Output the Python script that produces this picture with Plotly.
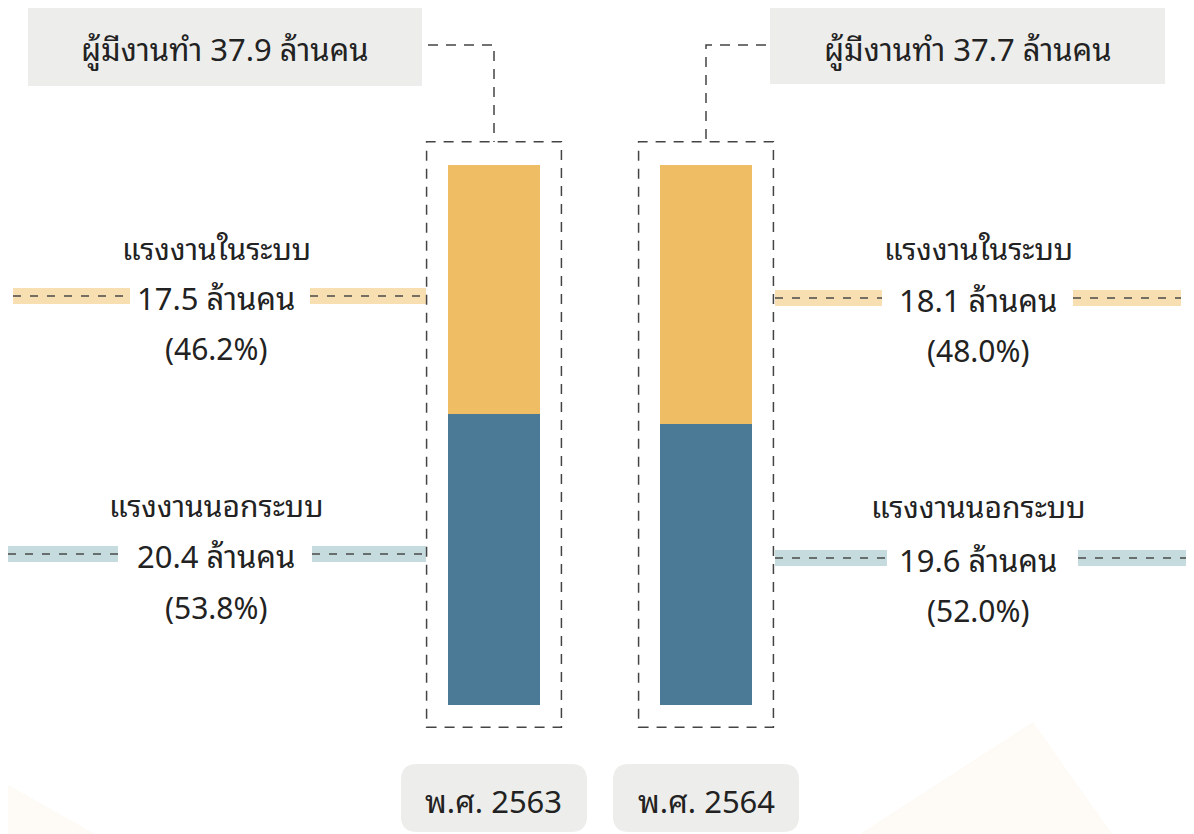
import plotly.graph_objects as go

# ---------------- data ----------------
years = ["พ.ศ. 2563", "พ.ศ. 2564"]
employed_total = [37.9, 37.7]
formal_millions = [17.5, 18.1]
informal_millions = [20.4, 19.6]
formal_pct = [46.2, 48.0]
informal_pct = [53.8, 52.0]
formal_label = "แรงงานในระบบ"
informal_label = "แรงงานนอกระบบ"
unit = "ล้านคน"
total_prefix = "ผู้มีงานทำ"

# ---------------- style ----------------
PAGE_W, PAGE_H = 1194, 834
OFF = 8  # page body margin
W, H = PAGE_W - OFF, PAGE_H - OFF
YELLOW = "#EFBD63"
BLUE = "#4A7A96"
BAND_Y = "#F8DFB2"
BAND_B = "#C6DBDE"
GREY = "#EDEDEB"
DASHC = "#444444"
FONT = "Noto Sans Thai Looped, Noto Sans Thai, Loma, Garuda, Noto Sans, sans-serif"
TXT = "#222222"


def px(x):
    return (x - OFF) / W


def py(y):
    return 1 - (y - OFF) / H


fig = go.Figure()
fig.add_trace(go.Bar(x=years, y=informal_pct, marker=dict(color=BLUE, line=dict(width=0)),
                     width=0.434, hoverinfo="skip", name=informal_label))
fig.add_trace(go.Bar(x=years, y=formal_pct, marker=dict(color=YELLOW, line=dict(width=0)),
                     width=0.434, hoverinfo="skip", name=formal_label))

shapes = []
annos = []

# faint background triangles
shapes.append(dict(type="path", xref="paper", yref="paper", layer="below",
                   path=f"M {px(OFF)} {py(785)} L {px(95)} {py(834)} L {px(OFF)} {py(834)} Z",
                   fillcolor="#FEFAF6", line=dict(width=0)))
shapes.append(dict(type="path", xref="paper", yref="paper", layer="below",
                   path=f"M {px(860)} {py(834)} L {px(1033)} {py(722)} L {px(1112)} {py(834)} Z",
                   fillcolor="#FEFAF6", line=dict(width=0)))

box_dash = "10px,8px"
# dashed boxes around bars (in data coords)
for i in range(len(years)):
    shapes.append(dict(type="rect", xref="x", yref="y", x0=i - 0.318, x1=i + 0.318,
                       y0=-4.1, y1=104.3, line=dict(color=DASHC, width=1.5, dash=box_dash),
                       fillcolor="rgba(0,0,0,0)"))

# top grey boxes + connectors
top_boxes = [(28, 422, 8, 86), (770, 1165, 8, 84)]
for i, (x0, x1, y0, y1) in enumerate(top_boxes):
    shapes.append(dict(type="rect", xref="paper", yref="paper", x0=px(x0), x1=px(x1),
                       y0=py(y1), y1=py(y0), fillcolor=GREY, line=dict(width=0), layer="below"))
    annos.append(dict(x=px((x0 + x1) / 2), y=py(47), xref="paper", yref="paper",
                      text=f"{total_prefix} {employed_total[i]:.1f} {unit}", showarrow=False,
                      font=dict(size=31, color=TXT, family=FONT), xanchor="center", yanchor="middle"))

shapes.append(dict(type="path", xref="paper", yref="paper",
                   path=f"M {px(428)} {py(45)} L {px(494)} {py(45)} L {px(494)} {py(142)}",
                   line=dict(color=DASHC, width=1.5, dash=box_dash)))
shapes.append(dict(type="path", xref="paper", yref="paper",
                   path=f"M {px(766)} {py(45)} L {px(706)} {py(45)} L {px(706)} {py(142)}",
                   line=dict(color=DASHC, width=1.5, dash=box_dash)))

# side labels
side = [
    (formal_label, formal_millions[0], formal_pct[0], BAND_Y, 216, 246, 296, 347, [(13, 130), (310, 426)]),
    (informal_label, informal_millions[0], informal_pct[0], BAND_B, 216, 503, 554, 605, [(8, 118), (312, 426)]),
    (formal_label, formal_millions[1], formal_pct[1], BAND_Y, 978, 246, 298, 348, [(775, 882), (1073, 1181)]),
    (informal_label, informal_millions[1], informal_pct[1], BAND_B, 978, 505, 558, 608, [(775, 887), (1078, 1194)]),
]
for name, val, pct, bc, cx, yt, yv, yp, segs in side:
    for a, b in segs:
        shapes.append(dict(type="rect", xref="paper", yref="paper", x0=px(a), x1=px(b),
                           y0=py(yv + 8), y1=py(yv - 8), fillcolor=bc, line=dict(width=0), layer="below"))
        shapes.append(dict(type="line", xref="paper", yref="paper", x0=px(a), x1=px(b),
                           y0=py(yv), y1=py(yv), line=dict(color="#4a4a4a", width=1.5, dash="8px,9px")))
    annos.append(dict(x=px(cx), y=py(yt), xref="paper", yref="paper", text=name, showarrow=False,
                      font=dict(size=30, color=TXT, family=FONT), xanchor="center", yanchor="middle"))
    annos.append(dict(x=px(cx), y=py(yv), xref="paper", yref="paper", text=f"{val:.1f} {unit}",
                      showarrow=False, font=dict(size=31, color=TXT, family=FONT),
                      xanchor="center", yanchor="middle"))
    annos.append(dict(x=px(cx), y=py(yp), xref="paper", yref="paper", text=f"({pct:.1f}%)",
                      showarrow=False, font=dict(size=30, color=TXT, family=FONT),
                      xanchor="center", yanchor="middle"))


def rounded(x0, y0, x1, y1, r):
    X0, X1 = px(x0), px(x1)
    rx, ry = r / W, r / H
    Y0, Y1 = py(y1), py(y0)
    return (f"M {X0 + rx} {Y0} L {X1 - rx} {Y0} Q {X1} {Y0} {X1} {Y0 + ry} "
            f"L {X1} {Y1 - ry} Q {X1} {Y1} {X1 - rx} {Y1} L {X0 + rx} {Y1} "
            f"Q {X0} {Y1} {X0} {Y1 - ry} L {X0} {Y0 + ry} Q {X0} {Y0} {X0 + rx} {Y0} Z")


year_boxes = [(401, 587), (613, 799)]
for i, (a, b) in enumerate(year_boxes):
    shapes.append(dict(type="path", xref="paper", yref="paper", path=rounded(a, 764, b, 832, 16),
                       fillcolor=GREY, line=dict(width=0), layer="below"))
    annos.append(dict(x=px((a + b) / 2), y=py(799), xref="paper", yref="paper", text=years[i],
                      showarrow=False, font=dict(size=31, color=TXT, family=FONT),
                      xanchor="center", yanchor="middle"))

# axis ranges so that categories sit at page pixels 494 and 706
step = 212.0
c0 = 494 - OFF
c1 = 706 - OFF
x_lo = -c0 / step
x_hi = 1 + (W - c1) / step
y_scale = 5.4  # px per percent
y_base = 705 - OFF
y_lo = -(H - y_base) / y_scale
y_hi = y_base / y_scale

fig.update_layout(
    width=W, height=H, barmode="stack", showlegend=False,
    margin=dict(l=0, r=0, t=0, b=0),
    paper_bgcolor="white", plot_bgcolor="rgba(0,0,0,0)",
    xaxis=dict(range=[x_lo, x_hi], visible=False, fixedrange=True),
    yaxis=dict(range=[y_lo, y_hi], visible=False, fixedrange=True),
    shapes=shapes, annotations=annos,
    font=dict(family=FONT),
)

fig.write_html("out.html", config={"displayModeBar": False})
